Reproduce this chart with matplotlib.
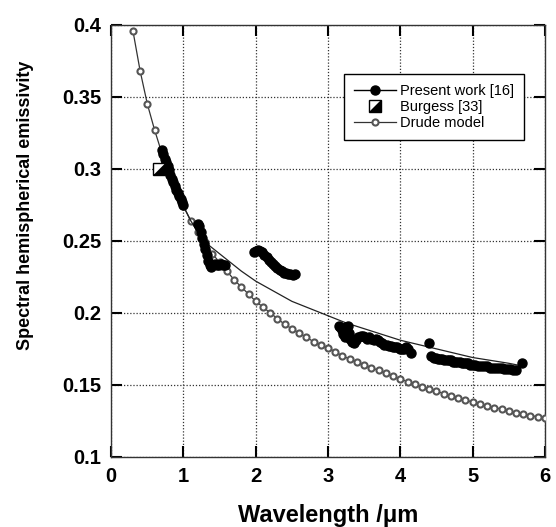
import matplotlib
matplotlib.use("Agg")
import matplotlib.pyplot as plt
from matplotlib.lines import Line2D

plt.rcParams['font.family'] = ['Liberation Sans', 'DejaVu Sans']

# Present work [16] - measured points, grouped by band
pw1_x = [0.70, 0.72, 0.74, 0.76, 0.78, 0.80, 0.82, 0.84, 0.86, 0.88, 0.90, 0.92, 0.94, 0.96, 0.98, 1.00]
pw1_y = [0.313, 0.310, 0.307, 0.305, 0.302, 0.299, 0.296, 0.293, 0.291, 0.288, 0.285, 0.283, 0.281, 0.279, 0.277, 0.275]

pw2_x = [1.20, 1.22, 1.24, 1.26, 1.28, 1.30, 1.32, 1.34, 1.36, 1.38, 1.40, 1.43, 1.46, 1.49, 1.52, 1.55, 1.58]
pw2_y = [0.262, 0.260, 0.256, 0.252, 0.248, 0.244, 0.240, 0.236, 0.233, 0.232, 0.233, 0.234, 0.233, 0.233, 0.234, 0.233, 0.233]

pw3_x = [1.98, 2.00, 2.03, 2.06, 2.09, 2.12, 2.15, 2.18, 2.21, 2.24, 2.27, 2.30, 2.33, 2.36, 2.39, 2.42, 2.45, 2.48, 2.51, 2.54]
pw3_y = [0.242, 0.243, 0.2435, 0.243, 0.242, 0.2405, 0.239, 0.237, 0.2355, 0.234, 0.2325, 0.231, 0.230, 0.229, 0.228,
         0.2275, 0.227, 0.2268, 0.2265, 0.227]

pw4_x = [3.15, 3.17, 3.19, 3.21, 3.23, 3.25, 3.27, 3.29, 3.31, 3.33, 3.36, 3.39, 3.42, 3.45, 3.48, 3.51, 3.54, 3.57,
         3.60, 3.63, 3.66, 3.69, 3.72, 3.75, 3.78, 3.81, 3.84, 3.87, 3.90, 3.93, 3.96, 3.99, 4.02, 4.05, 4.08, 4.11, 4.15,
         4.39]
pw4_y = [0.191, 0.190, 0.188, 0.185, 0.183, 0.190, 0.191, 0.186, 0.182, 0.180, 0.179, 0.181, 0.183, 0.184, 0.184, 0.183,
         0.182, 0.183, 0.182, 0.181, 0.182, 0.181, 0.180, 0.179, 0.178, 0.178, 0.177, 0.177, 0.176, 0.176, 0.176, 0.175,
         0.175, 0.175, 0.176, 0.175, 0.172, 0.179]

pw5_x = [4.43, 4.46, 4.49, 4.52, 4.55, 4.58, 4.61, 4.64, 4.67, 4.70, 4.73, 4.76, 4.79, 4.82, 4.85, 4.88, 4.91, 4.94,
         4.97, 5.00, 5.04, 5.08, 5.12, 5.16, 5.20, 5.24, 5.28, 5.32, 5.36, 5.40, 5.44, 5.48, 5.52, 5.56, 5.60, 5.69]
pw5_y = [0.170, 0.169, 0.169, 0.168, 0.168, 0.168, 0.167, 0.167, 0.167, 0.167, 0.166, 0.166, 0.166, 0.166, 0.165, 0.165,
         0.165, 0.165, 0.164, 0.164, 0.164, 0.163, 0.163, 0.163, 0.163, 0.162, 0.162, 0.162, 0.162, 0.162, 0.161, 0.161,
         0.161, 0.160, 0.160, 0.165]

# fitted curve through present work
fit_x = [0.70, 0.80, 0.90, 1.00, 1.10, 1.20, 1.30, 1.45, 1.60, 1.80, 2.00, 2.25, 2.50, 2.75, 3.00, 3.25, 3.50,
         3.75, 4.00, 4.25, 4.50, 4.75, 5.00, 5.25, 5.50, 5.70]
fit_y = [0.310, 0.297, 0.285, 0.274, 0.264, 0.256, 0.249, 0.243, 0.237, 0.229, 0.222, 0.215, 0.208, 0.203, 0.198,
         0.193, 0.189, 0.185, 0.181, 0.178, 0.175, 0.172, 0.169, 0.167, 0.165, 0.163]

# Burgess [33]
burgess_x = [0.66]
burgess_y = [0.300]

# Drude model
drude_x = [0.3, 0.4, 0.5, 0.6, 0.7, 0.8, 0.9, 1.0, 1.1, 1.2, 1.3, 1.4, 1.5, 1.6, 1.7, 1.8, 1.9, 2.0, 2.1, 2.2,
           2.3, 2.4, 2.5, 2.6, 2.7, 2.8, 2.9, 3.0, 3.1, 3.2, 3.3, 3.4, 3.5, 3.6, 3.7, 3.8, 3.9, 4.0, 4.1, 4.2,
           4.3, 4.4, 4.5, 4.6, 4.7, 4.8, 4.9, 5.0, 5.1, 5.2, 5.3, 5.4, 5.5, 5.6, 5.7, 5.8, 5.9, 6.0]
drude_y = [0.396, 0.368, 0.345, 0.327, 0.311, 0.297, 0.285, 0.274, 0.264, 0.256, 0.249, 0.241, 0.235, 0.229,
           0.223, 0.218, 0.213, 0.208, 0.204, 0.200, 0.196, 0.192, 0.189, 0.186, 0.183, 0.180, 0.178, 0.1757,
           0.173, 0.170, 0.168, 0.166, 0.164, 0.162, 0.160, 0.158, 0.156, 0.154, 0.1523, 0.1505, 0.1488, 0.1472,
           0.1456, 0.144, 0.1425, 0.141, 0.1396, 0.138, 0.1368, 0.1355, 0.1343, 0.1332, 0.1320, 0.1308, 0.1297,
           0.1287, 0.1279, 0.1272]

fig = plt.figure(figsize=(5.56, 5.27), dpi=100)
ax = fig.add_axes([0.2, 0.133, 0.78, 0.82])

drude_style = dict(color='#333333', lw=0.9, marker='o', ms=4.4, mfc='white', mec='#555555', mew=1.5)
ax.plot(drude_x, drude_y, zorder=3, **drude_style)
ax.plot(fit_x, fit_y, color='#222222', lw=0.9, zorder=3)

for xs, ys in [(pw1_x, pw1_y), (pw2_x, pw2_y), (pw3_x, pw3_y), (pw4_x, pw4_y), (pw5_x, pw5_y)]:
    ax.plot(xs, ys, ls='none', marker='o', ms=6.5, color='black', zorder=4)

# half-filled square for Burgess
tri = [(-1, -1), (1, -1), (1, 1), (-1, -1)]
ax.plot(burgess_x, burgess_y, ls='none', marker='s', ms=8, mfc='white', mec='black', mew=1, zorder=5)
ax.plot(burgess_x, burgess_y, ls='none', marker=tri, ms=8, mfc='black', mec='black', mew=0.5, zorder=6)

ax.set_xlim(0, 6)
ax.set_ylim(0.1, 0.4)
ax.set_xticks([0, 1, 2, 3, 4, 5, 6])
ax.set_xticklabels(['0', '1', '2', '3', '4', '5', '6'])
ax.set_yticks([0.1, 0.15, 0.2, 0.25, 0.3, 0.35, 0.4])
ax.set_yticklabels(['0.1', '0.15', '0.2', '0.25', '0.3', '0.35', '0.4'])
ax.tick_params(direction='in', length=8, width=1.5, top=True, right=True,
               labelsize=14.5, pad=7)
for lab in ax.get_xticklabels() + ax.get_yticklabels():
    lab.set_fontweight('bold')
ax.grid(True, ls=(0, (1, 1.5)), color='#333333', lw=0.9)
for sp in ax.spines.values():
    sp.set_color('#333333')
    sp.set_linewidth(1)

ax.set_xlabel('Wavelength /\u03bcm', fontsize=17, fontweight='bold', labelpad=13)
ax.set_ylabel('Spectral hemispherical emissivity', fontsize=13, fontweight='bold')
ax.yaxis.set_label_coords(-0.178, 0.583)

h1 = Line2D([], [], color='black', lw=1, marker='o', ms=6.5)
h2 = Line2D([], [], ls='none', marker='s', ms=8, mfc='white', mec='black')
h2b = Line2D([], [], ls='none', marker=tri, ms=8, mfc='black', mec='black')
h3 = Line2D([], [], **drude_style)
leg = ax.legend([h1, (h2, h2b), h3], ['Present work [16]', 'Burgess [33]', 'Drude model'],
                loc='upper left', bbox_to_anchor=(0.537, 0.885), borderaxespad=0, fontsize=10.5,
                frameon=True, fancybox=False, edgecolor='black', framealpha=1, handlelength=2.9,
                labelspacing=0.15, borderpad=0.65, handletextpad=0.3)
leg.get_frame().set_linewidth(1)

fig.savefig('out.png', dpi=100)
